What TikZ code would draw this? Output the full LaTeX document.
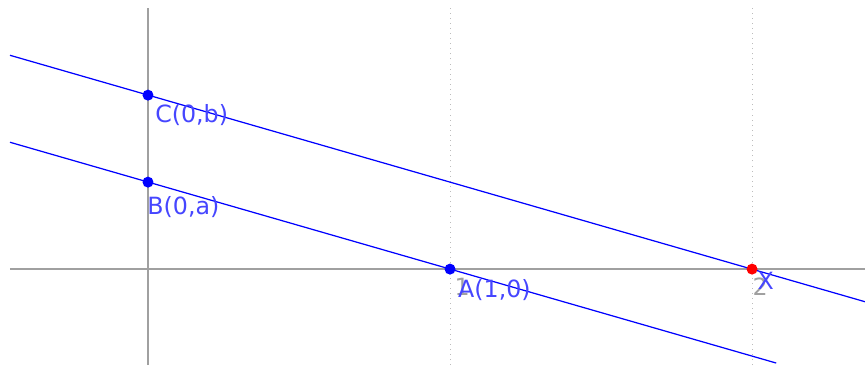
\documentclass[tikz,border=0pt]{standalone}
\usepackage{fontspec}
\newfontfamily\ggbfont{DejaVu Sans}
\usepackage{xcolor}
\definecolor{ggbblue}{RGB}{0,0,255}
\definecolor{ggblabel}{RGB}{70,70,255}
\definecolor{axisgray}{RGB}{160,160,160}
\usetikzlibrary{positioning}

\begin{document}
\begin{tikzpicture}[x=6.04cm, y=6.04cm,
        axis/.style={axisgray, line width=0.8pt},
        grid line/.style={axisgray!70, line width=0.5pt, dash pattern=on 0.5pt off 2.4pt},
        line/.style={ggbblue, line width=0.7pt},
        pt/.style={circle, fill=ggbblue, inner sep=0pt, minimum size=0.22cm},
        lbl/.style={ggblabel, inner sep=0pt, anchor=west, font=\ggbfont\fontsize{13.5}{15}\selectfont},
        tick/.style={axisgray, inner sep=0pt, font=\ggbfont\fontsize{13.5}{15}\selectfont}]
        \useasboundingbox (-0.490,-0.318) rectangle (2.374,0.891);

        \draw[grid line] (1,-0.318) -- (1,0.864);
        \draw[grid line] (2,-0.318) -- (2,0.864);
        \draw[axis] (-0.457,0) -- (2.374,0);
        \draw[axis] (0,-0.318) -- (0,0.864);

        \node[tick] (t1) at (1.040,-0.058) {1};
        \node[tick] (t2) at (2.027,-0.058) {2};

        \coordinate (cl) at (-0.457,0.708);
        \coordinate (cr) at (2.374,-0.108);
        \coordinate (bl) at (-0.457,0.420);
        \coordinate (br) at (2.080,-0.311);

        \draw[line] (cl) -- (cr);
        \draw[line] (bl) -- (br);

        \node[pt] (C) at (0,0.576) {};
        \node[pt] (B) at (0,0.288) {};
        \node[pt] (A) at (1,0) {};
        \node[pt, fill=red] (X) at (2,0) {};

        \node[lbl] (lC) at (0.023,0.51) {C(0,b)};
        \node[lbl] (lB) at (-0.003,0.205) {B(0,a)};
        \node[lbl] (lA) at (1.026,-0.07) {A(1,0)};
        \node[lbl] (lX) at (2.017,-0.04) {X};
\end{tikzpicture}
\end{document}
